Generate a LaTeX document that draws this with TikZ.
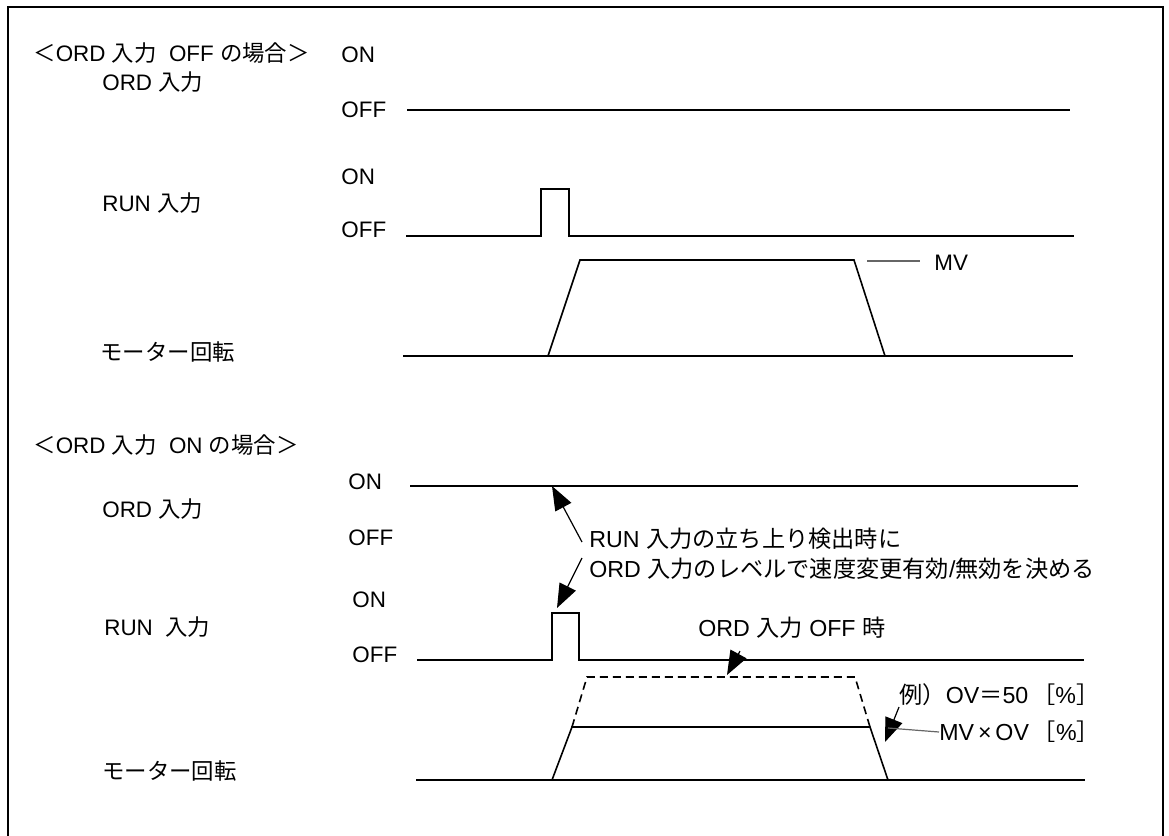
\documentclass[tikz,border=0pt]{standalone}
\usepackage{fontspec}
\setmainfont{Liberation Sans}
\newfontfamily\jp{Noto Sans CJK JP}
\usepackage{tikz}
\usetikzlibrary{arrows.meta}
\tikzset{>={Triangle[length=12pt,width=9pt]}}

\begin{document}
\begin{tikzpicture}[x=0.5pt,y=-0.5pt,
    wave/.style={line width=0.8pt},
    lbl/.style={anchor=west,inner sep=0pt,font=\fontsize{11.2}{13}\selectfont},
    note/.style={lbl,font=\fontsize{11.6}{13}\selectfont},
    lead/.style={line width=0.6pt,black!60}]
  \useasboundingbox (0,0) rectangle (1169,836);
  \draw[line width=1pt] (8,850) -- (8,7) -- (1163,7) -- (1163,850);

  % case 1: ORD input off
  \node[lbl] (title1) at (33,53) {{\jp ＜}ORD {\jp 入力}\ \ OFF {\jp の場合＞}};
  \node[lbl] (ord1) at (102,82) {ORD {\jp 入力}};
  \node[lbl] (on1) at (341,55) {ON};
  \node[lbl] (off1) at (341,110) {OFF};
  \node[lbl] (run1) at (102,203) {RUN {\jp 入力}};
  \node[lbl] (on2) at (341,177) {ON};
  \node[lbl] (off2) at (341,230) {OFF};
  \node[lbl] (mot1) at (100,352) {\jp モーター回転};
  \draw[wave] (407,110) -- (1070,110);
  \draw[wave] (406,236) -- (541,236) -- (541,189) -- (569,189) -- (569,236) -- (1074,236);
  \draw[wave] (403,356) -- (1073,356);
  \draw[wave] (548,356) -- (580,260) -- (854,260) -- (885,356);
  \node[lbl] (mv) at (934,263) {MV};
  \draw[lead] (867,261) -- (920,261);

  % case 2: ORD input on
  \node[lbl] (title2) at (33,445) {{\jp ＜}ORD {\jp 入力}\ \ ON {\jp の場合＞}};
  \node[lbl] (ord2) at (102,509) {ORD {\jp 入力}};
  \node[lbl] (on3) at (348,482) {ON};
  \node[lbl] (off3) at (348,538) {OFF};
  \node[lbl] (run2) at (104,627) {RUN\ \ {\jp 入力}};
  \node[lbl] (on4) at (352,600) {ON};
  \node[lbl] (off4) at (352,655) {OFF};
  \node[lbl] (mot2) at (102,771) {\jp モーター回転};
  \draw[wave] (410,486) -- (1078,486);
  \draw[wave] (417,660) -- (552,660) -- (552,613) -- (579,613) -- (579,660) -- (1084,660);
  \draw[wave] (416,780) -- (1085,780);
  \draw[wave] (552,780) -- (572,727) -- (870,727) -- (888,780);
  \draw[wave,dash pattern=on 4pt off 2.5pt] (572,727) -- (587,677) -- (855,677) -- (870,727);
  \coordinate (ordrise) at (552,486);
  \coordinate (runrise) at (557,608);
  \coordinate (fulltop) at (727,675);
  \coordinate (ovfall) at (885,742);

  \node[note] (t1) at (589,539) {RUN {\jp 入力の立ち上り検出時に}};
  \node[note] (t2) at (589,569) {ORD {\jp 入力のレベルで速度変更有効}/{\jp 無効を決める}};
  \node[note] (t3) at (698,628) {ORD {\jp 入力} OFF {\jp 時}};
  \node[note] (t4) at (899,695) {{\jp 例）}OV{\jp ＝}50\,{\jp ［}\%{\jp ］}};
  \node[note] (t5) at (939,732) {MV\,×\,OV\,{\jp ［}\%{\jp ］}};
  \draw[line width=0.6pt,->] ([shift={(-7,3)}]t1.west) -- (ordrise);
  \draw[line width=0.6pt,->] ([shift={(-7,-11)}]t2.west) -- (runrise);
  \draw[line width=0.6pt,->] ([shift={(42,12)}]t3.south west) -- (fulltop);
  \draw[line width=0.6pt,->] ([shift={(0,12)}]t4.west) -- (ovfall);
  \draw[lead] (888,728) -- (t5.west);
\end{tikzpicture}
\end{document}
